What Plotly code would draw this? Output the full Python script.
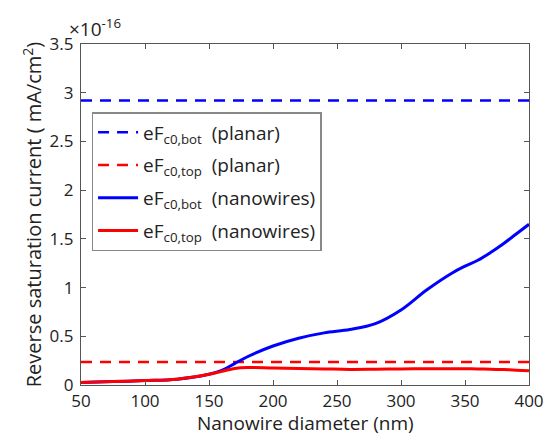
import plotly.graph_objects as go

diam = [50, 75, 100, 125, 150, 160, 170, 180, 200, 220, 240, 260, 280, 300, 320, 340, 350, 360, 370, 380, 390, 400]
bot_nw = [0.025, 0.035, 0.045, 0.06, 0.11, 0.15, 0.22, 0.29, 0.40, 0.48, 0.535, 0.57, 0.63, 0.77, 0.975, 1.15, 1.22, 1.28, 1.36, 1.45, 1.55, 1.65]
top_nw = [0.025, 0.035, 0.045, 0.06, 0.11, 0.14, 0.17, 0.18, 0.175, 0.17, 0.165, 0.16, 0.162, 0.165, 0.167, 0.167, 0.166, 0.165, 0.162, 0.158, 0.152, 0.147]
bot_planar = 2.92
top_planar = 0.235
xticks = [50, 100, 150, 200, 250, 300, 350, 400]
yticks = [0, 0.5, 1, 1.5, 2, 2.5, 3, 3.5]
ytext = ["0", "0.5", "1", "1.5", "2", "2.5", "3", "3.5"]

FONT = "Open Sans"
TXT = "#222222"
fig = go.Figure()
fig.add_trace(go.Scatter(x=[diam[0], diam[-1]], y=[bot_planar, bot_planar], mode="lines",
                         line=dict(color="#0000ff", width=2.5, dash="11px,8px"), legendgroup="a",
                         name="eF<sub>c0,bot</sub>  (planar)"))
fig.add_trace(go.Scatter(x=[diam[0], diam[-1]], y=[top_planar, top_planar], mode="lines",
                         line=dict(color="#ff0000", width=2.5, dash="11px,8px"), legendgroup="b",
                         name="eF<sub>c0,top</sub>  (planar)"))
fig.add_trace(go.Scatter(x=diam, y=bot_nw, mode="lines", line=dict(color="#0000ff", width=3, shape="spline"),
                         legendgroup="c", name="eF<sub>c0,bot</sub>  (nanowires)"))
fig.add_trace(go.Scatter(x=diam, y=top_nw, mode="lines", line=dict(color="#ff0000", width=3, shape="spline"),
                         legendgroup="d", name="eF<sub>c0,top</sub>  (nanowires)"))

axcommon = dict(showgrid=False, zeroline=False, showline=True, linecolor="#555555", linewidth=1.3,
                mirror="ticks", ticks="inside", ticklen=5, tickcolor="#555555", automargin=False,
                tickfont=dict(family=FONT, size=17, color=TXT))
fig.update_xaxes(range=[50, 400], tickvals=xticks, **axcommon)
fig.update_yaxes(range=[0, 3.5], tickvals=yticks, ticktext=ytext, ticklabelstandoff=3,
                 title=dict(text="Reverse saturation current ( mA/cm<sup>2</sup>)", font=dict(family=FONT, size=20, color=TXT), standoff=2), **axcommon)
fig.add_annotation(xref="paper", yref="paper", x=0.5, y=-0.111, xanchor="center", yanchor="middle",
                   text="Nanowire diameter (nm)", showarrow=False, font=dict(family=FONT, size=19, color=TXT),
                   borderpad=0)
fig.add_annotation(xref="paper", yref="paper", x=0, y=1, xanchor="left", yanchor="bottom", xshift=-14, yshift=0,
                   text="×10<sup>-16</sup>", showarrow=False, font=dict(family=FONT, size=19, color=TXT))
fig.update_layout(width=545, height=435, margin=dict(l=81, r=16, t=44, b=50),
                  paper_bgcolor="white", plot_bgcolor="white",
                  font=dict(family=FONT, color=TXT),
                  legend=dict(x=0.024, y=0.8, xanchor="left", yanchor="top", bordercolor="#888888", borderwidth=1.3,
                              bgcolor="white", font=dict(family=FONT, size=19, color=TXT), itemwidth=40,
                              tracegroupgap=5))
fig.write_html("out.html")
